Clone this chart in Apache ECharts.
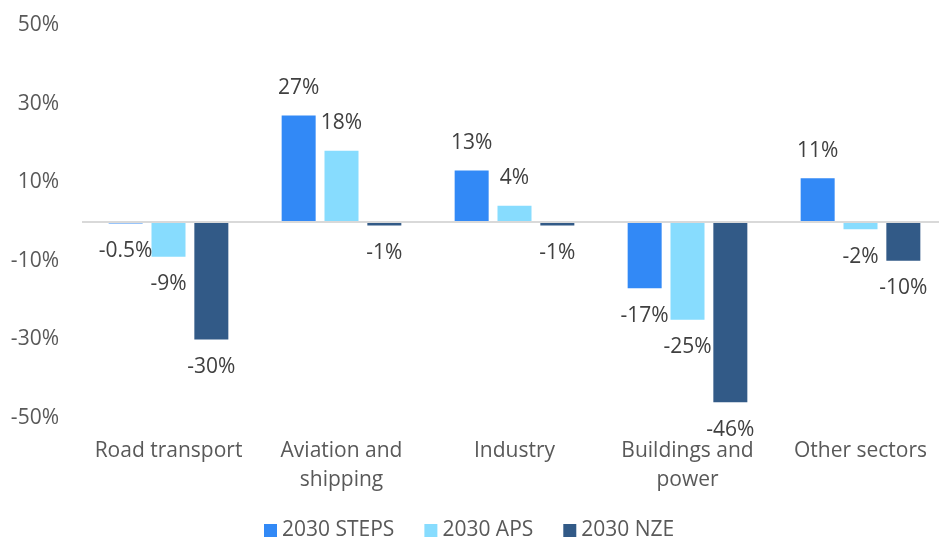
<!DOCTYPE html>
<html>
<head>
<meta charset="utf-8">
<script src="https://cdn.jsdelivr.net/npm/echarts@6/dist/echarts.min.js"></script>
<style>
  html, body { margin: 0; padding: 0; background: #fff; overflow: hidden; }
  /* the source plot runs a few px past the right edge, so the canvas is wider than the window */
  #main { width: 947px; height: 538px; }
</style>
</head>
<body>
<div id="main"></div>
<script>
// categories and values
const sectors = ['Road transport', 'Aviation and\nshipping', 'Industry', 'Buildings and\npower', 'Other sectors']
const steps = [-0.5, 27, 13, -17, 11]
const aps = [-9, 18, 4, -25, -2]
const nze = [-30, -1, -1, -46, -10]
const seriesNames = ['2030 STEPS', '2030 APS', '2030 NZE']
const colors = ['#3289F6', '#87DCFE', '#325A87']

const font = 'Open Sans'

const myChart = echarts.init(document.getElementById('main'))

// label on the outer end of each bar
function barSeries(name, data, color, withZero) {
    const s = {
        name: name,
        type: 'bar',
        data: data.map(v => ({
            value: v,
            label: { position: v < 0 ? 'bottom' : 'top' }
        })),
        barWidth: 34,
        barGap: '26%',
        itemStyle: { color: color },
        label: {
            show: true,
            distance: 17,
            formatter: p => p.value + '%',
            color: '#404040',
            fontFamily: font,
            fontSize: 21
        }
    }
    if (withZero) {
        // zero line across the plot
        s.markLine = {
            silent: true,
            symbol: 'none',
            label: { show: false },
            lineStyle: { color: '#d9d9d9', width: 2, type: 'solid' },
            data: [{ yAxis: 0 }]
        }
    }
    return s
}

myChart.setOption({
    animation: false,
    color: colors,
    grid: { left: 82, right: 0, top: 25, bottom: 120 },
    legend: {
        top: 515,
        left: 259,
        itemWidth: 13,
        itemHeight: 13,
        itemGap: 30,
        icon: 'rect',
        data: seriesNames,
        textStyle: { color: '#595959', fontFamily: font, fontSize: 21 }
    },
    xAxis: {
        type: 'category',
        data: sectors,
        axisLine: { show: false, onZero: false },
        axisTick: { show: false },
        axisLabel: {
            interval: 0,
            color: '#595959',
            fontFamily: font,
            fontSize: 21,
            lineHeight: 29,
            margin: 19
        }
    },
    yAxis: {
        type: 'value',
        min: -50,
        max: 50,
        interval: 20,
        splitLine: { show: false },
        axisLine: { show: false },
        axisTick: { show: false },
        axisLabel: {
            formatter: '{value}%',
            color: '#595959',
            fontFamily: font,
            fontSize: 21,
            margin: 23
        }
    },
    series: [
        barSeries(seriesNames[0], steps, colors[0], true),
        barSeries(seriesNames[1], aps, colors[1], false),
        barSeries(seriesNames[2], nze, colors[2], false)
    ]
})
</script>
</body>
</html>
